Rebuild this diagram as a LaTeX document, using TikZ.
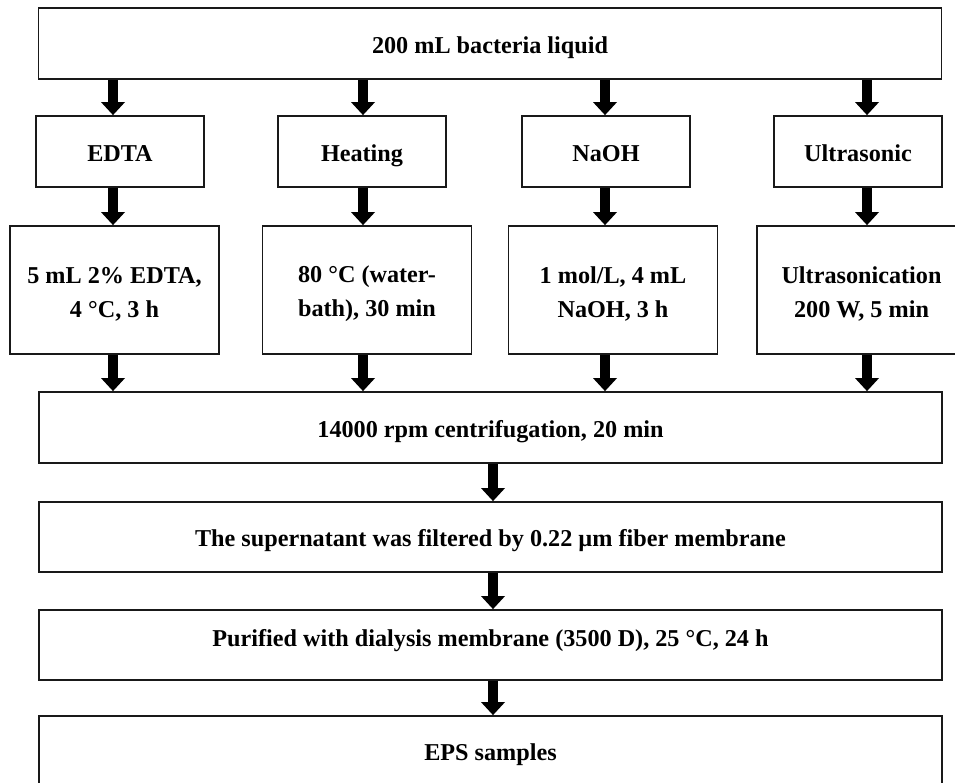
\documentclass[tikz,border=0pt]{standalone}
\usepackage{fontspec}
\setmainfont{Liberation Serif}
\usetikzlibrary{arrows.meta}
\newcommand\firstln{\rule{0pt}{24.7pt}}
\begin{document}
\begin{tikzpicture}[x=1pt,y=-1pt,
  box/.style={draw=black!90, line width=1.8pt, fill=white, inner sep=0pt, align=center,
    font=\fontsize{24.2}{34}\selectfont\bfseries},
  bl/.style={text height=#1, text depth=0pt},
  bl/.default=20pt,
  wide/.style={box, bl, minimum width=903pt, minimum height=71pt},
  mid/.style={box, bl, minimum width=168pt, minimum height=71pt},
  det/.style={box, minimum width=209pt, minimum height=128pt},
  barrow/.style={line width=10.8pt, -{Triangle[length=13pt 0 0, width=24pt 0 0, line width=0pt]}}]
\useasboundingbox[fill=white] (0,0) rectangle (955,783);
% nodes
\node[wide] (top) at (490,43.5) {200 mL bacteria liquid};
\node[mid] (m1) at (120,151.5) {EDTA};
\node[mid] (m2) at (362,151.5) {Heating};
\node[mid] (m3) at (606,151.5) {NaOH};
\node[mid] (m4) at (858,151.5) {Ultrasonic};
\node[det] (d1) at (114.5,290) {\firstln 5 mL 2\% EDTA,\\4 °C, 3 h};
\node[det] (d2) at (367,290) {\firstln 80 °C (water-\\bath), 30 min};
\node[det] (d3) at (613,290) {\firstln 1 mol/L, 4 mL\\NaOH, 3 h};
\node[det] (d4) at (861.5,290) {\firstln Ultrasonication\\200 W, 5 min};
\node[wide, bl=19pt] (cen) at (490.5,427.5) {14000 rpm centrifugation, 20 min};
\node[wide, minimum height=70pt, bl=18pt] (fil) at (490.5,537) {The supernatant was filtered by 0.22 µm fiber membrane};
\node[wide, minimum height=70pt, bl=2pt] (pur) at (490.5,645) {Purified with dialysis membrane (3500 D), 25 °C, 24 h};
\node[wide, bl=18.4pt] (eps) at (490.5,751.5) {EPS samples};
% arrow columns
\coordinate (c1) at (113,0);
\coordinate (c2) at (363,0);
\coordinate (c3) at (605,0);
\coordinate (c4) at (867,0);
\coordinate (c5) at (493,0);
\foreach \i in {1,2,3,4}{
  \draw[barrow] (c\i |- top.south) -- (c\i |- m\i.north);
  \draw[barrow] (c\i |- m\i.south) -- (c\i |- d\i.north);
  \draw[barrow] (c\i |- d\i.south) -- (c\i |- cen.north);
}
\draw[barrow] (c5 |- cen.south) -- (c5 |- fil.north);
\draw[barrow] (c5 |- fil.south) -- (c5 |- pur.north);
\draw[barrow] (c5 |- pur.south) -- (c5 |- eps.north);
\end{tikzpicture}
\end{document}
